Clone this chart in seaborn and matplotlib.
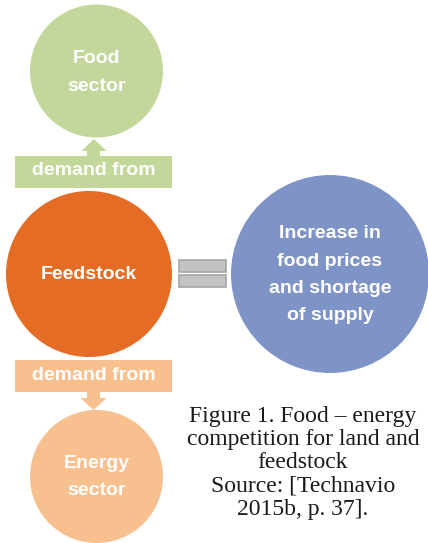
import matplotlib
matplotlib.use("Agg")
import matplotlib.pyplot as plt
from matplotlib.patches import Circle, Rectangle, Polygon
import seaborn as sns

# ---- content ----
node_labels = ["Food\nsector", "Feedstock", "Energy\nsector",
               "Increase in\nfood prices\nand shortage\nof supply"]
node_colors = ["#c4d79b", "#e46c25", "#f8c08f", "#7f94c6"]
link_labels = ["demand from", "demand from"]
link_colors = ["#c4d79b", "#f8c08f"]
caption_lines = ["Figure 1. Food \u2013 energy", "competition for land and",
                 "feedstock", "Source: [Technavio", "2015b, p. 37]."]

sns.set_theme(style="white")
plt.rcParams["font.family"] = ["Liberation Sans", "DejaVu Sans"]

W, H = 428, 543
fig = plt.figure(figsize=(W / 100, H / 100), dpi=100)
ax = fig.add_axes([0, 0, 1, 1])
ax.set_xlim(0, W)
ax.set_ylim(H, 0)
ax.set_axis_off()

# layout (pixel coordinates): center x, center y, radius, first baseline, line step
layout = [
    (96.5, 71, 66.5, 62.7, 28),
    (89, 274, 83, 279, 0),
    (96.5, 476.5, 66.5, 468, 27),
    (330, 274, 99, 238.3, 27.3),
]
for label, color, (cx, cy, r, b0, step) in zip(node_labels, node_colors, layout):
    ax.add_patch(Circle((cx, cy), r, facecolor=color, edgecolor="none", zorder=1))
    for i, line in enumerate(label.split("\n")):
        ax.text(cx, b0 + i * step, line, ha="center", va="baseline",
                color="white", fontsize=14, fontweight="bold", zorder=3)

# link boxes with arrows
box_y = [156, 360]
text_base = [175, 380]
for label, color, y0, tb in zip(link_labels, link_colors, box_y, text_base):
    ax.add_patch(Rectangle((15, y0), 157, 32, facecolor=color, edgecolor="none", zorder=2))
    ax.text(93.5, tb, label, ha="center", va="baseline", color="white",
            fontsize=14, fontweight="bold", zorder=3)

# up arrow (food)
ax.add_patch(Polygon([(87, 156), (87, 151), (81.5, 151), (94, 139), (106.5, 151),
                      (100, 151), (100, 156)], closed=True,
                     facecolor=link_colors[0], edgecolor="none", zorder=2))
# down arrow (energy)
ax.add_patch(Polygon([(87, 392), (87, 398), (80.5, 398), (93.5, 410), (106.5, 398),
                      (100, 398), (100, 392)], closed=True,
                     facecolor=link_colors[1], edgecolor="none", zorder=2))

# equals sign
for y in (260, 275):
    ax.add_patch(Rectangle((179.5, y), 46.5, 12, facecolor="#c3c3c3",
                           edgecolor="#a6a6a6", linewidth=1.2, zorder=2))

# caption
for i, line in enumerate(caption_lines):
    ax.text(303, 421.7 + i * 23.3, line, ha="center", va="baseline",
            color="#1a1a1a", fontsize=17, family=["Liberation Serif", "DejaVu Serif"])

fig.savefig("out.png", dpi=100)
